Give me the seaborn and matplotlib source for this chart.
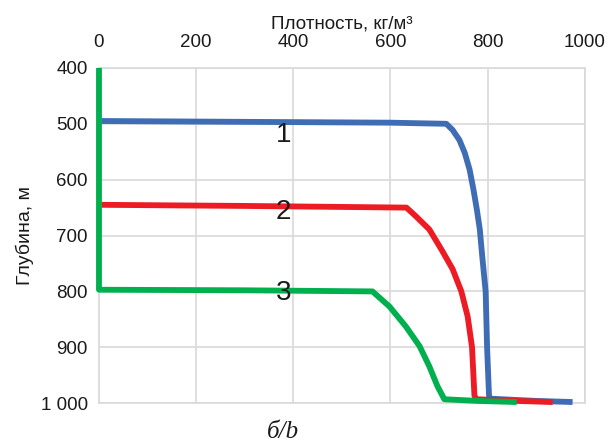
import pandas as pd
import matplotlib.pyplot as plt
import seaborn as sns
from matplotlib.ticker import FuncFormatter

# Curve data (density, kg/m3 vs depth, m)
blue_x = [5, 200, 400, 600, 715, 728, 742, 753, 763, 771, 778, 784, 789, 796, 799, 803, 806, 900, 975]
blue_y = [495, 496, 497, 498, 500, 511, 529, 552, 582, 618, 654, 689, 737, 800, 900, 987, 992, 996, 998]

red_x = [5, 300, 633, 653, 680, 705, 728, 746, 759, 768, 773, 777, 860, 934]
red_y = [645, 647, 650, 666, 689, 725, 760, 800, 845, 900, 987, 993, 996, 998]

green_x = [0, 0, 300, 563, 598, 632, 660, 680, 697, 711, 780, 860]
green_y = [400, 797, 798, 800, 827, 863, 898, 934, 970, 993, 996, 998]

curve_names = ['1', '2', '3']
label_x = [380, 380, 380]
label_y = [520, 657, 802]
colors = {'1': '#3f6db5', '2': '#ed1c24', '3': '#00b04f'}

df = pd.concat([
    pd.DataFrame({'x': blue_x, 'y': blue_y, 'curve': '1'}),
    pd.DataFrame({'x': red_x, 'y': red_y, 'curve': '2'}),
    pd.DataFrame({'x': green_x, 'y': green_y, 'curve': '3'}),
])

sns.set_style('white')
plt.rcParams['font.family'] = ['Liberation Sans', 'DejaVu Sans']

fig = plt.figure(figsize=(6.11, 4.44), dpi=100)
ax = fig.add_axes([0.162, 0.092, 0.795, 0.755])

sns.lineplot(data=df, x='x', y='y', hue='curve', palette=colors, estimator=None,
             sort=False, units='curve', linewidth=4.2, legend=False, ax=ax,
             solid_capstyle='butt', solid_joinstyle='round', clip_on=False, zorder=3)

ax.set_xlim(0, 1000)
ax.set_ylim(1000, 400)
ax.set_xticks(range(0, 1001, 200))
ax.set_yticks(range(400, 1001, 100))
ax.yaxis.set_major_formatter(FuncFormatter(lambda v, p: f'{int(v):,}'.replace(',', ' ')))
ax.xaxis.tick_top()
ax.xaxis.set_label_position('top')
ax.tick_params(length=0, labelsize=13.5, colors='#1a1a1a')
ax.tick_params(axis='x', pad=12)
ax.tick_params(axis='y', pad=8)
ax.grid(True, color='#d9d9d9', linewidth=1.2)
ax.set_axisbelow(True)
for s in ax.spines.values():
    s.set_color('#d9d9d9')
    s.set_linewidth(1.2)

ax.set_xlabel('Плотность, кг/м³', fontsize=13.5, color='#1a1a1a', labelpad=4)
ax.set_ylabel('Глубина, м', fontsize=14, color='#1a1a1a', labelpad=5)

for name, lx, ly in zip(curve_names, label_x, label_y):
    ax.text(lx, ly, name, fontsize=20, ha='center', va='center', color='#1a1a1a')

fig.text(0.463, 0.027, 'б/b', fontsize=18, style='italic', ha='center', va='center',
         family=['Liberation Serif', 'DejaVu Serif'], color='#1a1a1a')

fig.savefig('out.png', dpi=100)
